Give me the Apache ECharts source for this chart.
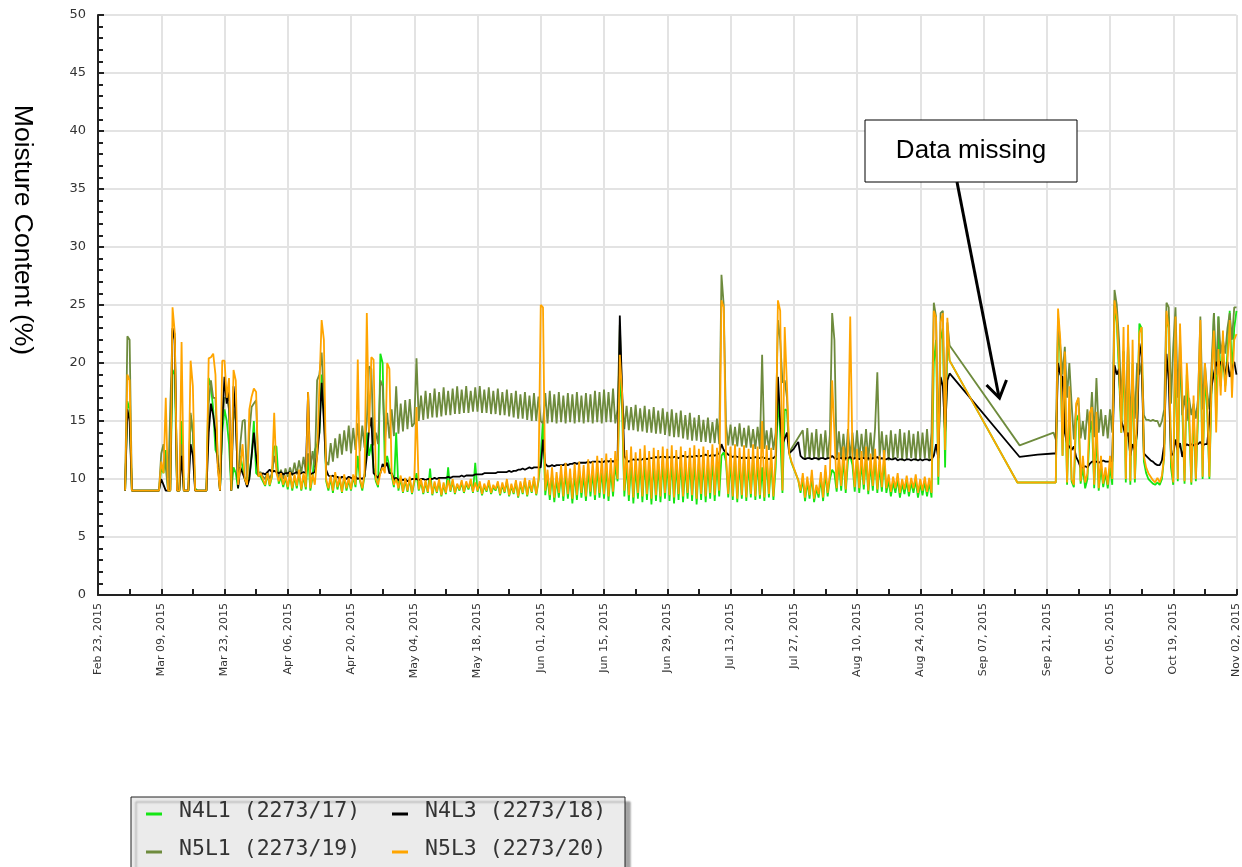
<!DOCTYPE html>
<html lang="en">
<head>
<meta charset="UTF-8">
<title>Moisture Content</title>
<script src="https://cdn.jsdelivr.net/npm/echarts@6/dist/echarts.min.js"></script>
<style>
    html, body { margin: 0; padding: 0; background: #fff; }
    #chart { width: 1242px; height: 867px; }
</style>
</head>
<body>
<div id="chart"></div>
<script>
    var _ = null;
    // one value every 12 hours, starting Feb 23 2015 00:00 (x = days since Feb 23)
    var stepDays = 0.5;

    var tickLabels = ['Feb 23, 2015', 'Mar 09, 2015', 'Mar 23, 2015', 'Apr 06, 2015', 'Apr 20, 2015',
        'May 04, 2015', 'May 18, 2015', 'Jun 01, 2015', 'Jun 15, 2015', 'Jun 29, 2015', 'Jul 13, 2015',
        'Jul 27, 2015', 'Aug 10, 2015', 'Aug 24, 2015', 'Sep 07, 2015', 'Sep 21, 2015', 'Oct 05, 2015',
        'Oct 19, 2015', 'Nov 02, 2015'];

    var names = ['N4L1 (2273/17)', 'N4L3 (2273/18)', 'N5L1 (2273/19)', 'N5L3 (2273/20)'];

    var n4l1 = [
        _,_,_,_,_,_,_,_,_,_,_,_, 9,16.7,16,9, 9,9,9,9, 9,9,9,9, 9,9,9,9,
        11,10.5,12.5,9, 9,19.4,19,9, 9,15,9,9, 9,15.5,14,9.2, 9,9,9,9, 9,18.7,18,16, 12.5,12,9,14,
        16,15,13,9, 11,10.5,9.2,12, 11,10,9.5,10.2, 12,15,10.5,10.3, 10.2,9.8,9.4,10.4, 9.4,10.2,12.8,12.8, 9.6,10.2,9.3,10.1,
        9.1,10.4,9,10.2, 9.2,10.5,9,10.3, 9.1,12,9,10.2, 12.5,13,14,19, 17,9.8,9,10.1, 8.8,10.4,9.1,10, 8.8,10.2,9,9.9,
        9,10.2,9.3,12, 9.8,9,10.3,14, 12,13,11,9.8, 9.3,20.8,20,11, 12,11,10.3,9.3, 14,9,10.1,8.8, 9.9,8.9,10,8.7,
        9.7,10.5,9,9.8, 8.7,9.7,8.8,10.9, 8.6,9.6,8.8,9.8, 8.5,9.5,8.7,11, 8.9,9.8,8.7,9.5, 9,9.7,8.8,9.6, 9.1,9.8,8.8,11.4,
        8.9,9.6,8.6,9.4, 8.9,9.7,8.7,9.3, 9,9.6,8.6,9.5, 8.8,9.8,8.5,9.4, 8.7,9.7,8.4,9.6, 8.7,9.9,8.5,9.7, 8.8,10,8.6,9.8,
        12,15,8.6,10.2, 8.2,10.4,8,10, 8.4,10.5,8.1,10.6, 8.3,10.2,7.9,10.5, 8.2,10.7,8.4,10.4, 8.1,10.8,8.5,10.6, 8.2,11,8.4,10.8,
        8.3,11,8.1,10.8, 8.5,11.2,9.8,19, 16,8.5,11.3,8.1, 11.5,7.9,11.1,8.3, 11.4,8,11.6,8.2, 11.2,7.8,11.5,8.1, 11.3,8,11.6,8.3,
        11.4,8.1,11.7,7.9, 11.3,8.2,11.6,8, 11.2,8.3,11.5,8.1, 11.7,7.8,11.4,8.2, 11.6,8,11.3,8.3, 11.8,8.1,11.5,8.5, 12,12.3,11.5,8.4,
        11.6,8.2,11.8,8, 11.5,8.3,11.7,8.1, 11.4,8.4,11.8,8.2, 11.6,8.3,11,8.1, 11.7,8.4,11.5,8.2, 11,17,14,8.8, 16,15.9,12.2,11.4,
        _,_,9.9,8.8, 10,8.1,9.8,8.3, 10.3,8,9.2,8.4, 10.1,8.1,10.6,8.5, 10,10.8,10.5,8.9, 11.5,9,11.8,8.8, 11.6,12,11.2,8.9,
        11.7,8.8,11.5,9.1, 11.9,8.7,11.3,9, 11.7,8.8,11.1,8.9, 11.6,8.8,9.9,8.5, 9.7,8.8,10,8.4, 9.6,8.7,9.8,8.5, 9.7,8.8,9.9,8.4,
        9.6,8.6,9.8,8.5, 9.7,8.4,20,22, 9.5,22,23,11, 22,20.2, _,_,_,_,_,_,_,_,_,_,_,_,_,_,
        _,_,_,_,_,_,_,_,_,_,_,_,_,_,_, 9.7, _,_,_,_, 9.7, _,_,_,_,_, 9.7, _,
        _,_,_,9.7, 9.7,23,21,12, 19,9.5,16,9.8, 9.3,15,15.5,9.6, 11,9.2,10,14, 15,9.2,14,9, 11,9.3,10.5,9.2,
        11,9.5,25,23.5, 19,14,21,9.7, 22,9.5,20,9.7, 15,23.4,23,11.5, 10.5,10,9.8,9.6, 9.5,9.7,9.5,10, 12,23,24,11,
        9.5,22,9.8,21, 16,9.6,19,15, 9.5,16,9.8,15.5, 22,10,19,16, 10,18,24.3,15, 24,18,21,18, 21,24.5,19,23, 24.5
    ];

    var n4l3 = [
        _,_,_,_,_,_,_,_,_,_,_,_, 9,16,15,9, 9,9,9,9, 9,9,9,9, 9,9,9,9,
        10,9.5,9,9, 9,23,22,9, 9,12,9,9, 9,13,12,9, 9,9,9,9, 9,14,16.5,15.5, 14,11.4,9,15,
        18.8,16.5,17.5,9, 18,15.3,9.2,11, 10.5,10,9.3,10, 12,14,12,10.3, 10.4,10.5,10.4,10.6, 10.8,10.6,10.7,10.6, 10.5,10.6,10.4,10.5,
        10.5,10.6,10.4,10.5, 10.6,10.4,10.5,10.6, 10.5,17.5,10.4,10.5, 10.6,12,14,18.3, 15,10.8,10.3,10.2, 10.3,10.1,10.2,10, 10.2,10.1,10,10.2,
        10.1,10,10.2,10, 10.1,10,10.2,12, 14.3,15.3,10.5,10.3, 10.1,10.5,11.3,11, 11.4,10.5,10.5,10, 10.1,9.9,10,9.9, 10,9.8,9.9,10,
        10,10,9.9,10, 10,9.9,10,10, 10,10.1,10,10.1, 10.1,10.1,10.1,10.2, 10.1,10.2,10.2,10.2, 10.2,10.3,10.2,10.3, 10.3,10.3,10.3,10.4,
        10.4,10.4,10.4,10.5, 10.5,10.5,10.5,10.5, 10.5,10.6,10.6,10.6, 10.6,10.6,10.7,10.6, 10.7,10.7,10.8,10.8, 10.9,10.8,10.9,11, 10.9,11,11,11,
        11,13.4,11.3,11.1, 11.1,11.2,11.1,11.2, 11.2,11.2,11.2,11.3, 11.2,11.3,11.3,11.4, 11.3,11.4,11.4,11.4, 11.4,11.5,11.4,11.5, 11.5,11.5,11.5,11.4,
        11.5,11.6,11.5,11.6, 11.5,11.6,11.6,24.1, 17.7,12,11.6,11.5, 11.6,11.7,11.6,11.7, 11.6,11.7,11.8,11.7, 11.8,11.8,11.8,11.9, 11.8,11.9,11.9,11.9,
        11.8,11.9,11.8,11.9, 11.9,11.8,11.9,12, 11.9,11.9,12,11.9, 12,12,11.9,12, 12,12.1,12,12, 12.1,12,12.1,12.2, 13,12.5,12.3,12.1,
        12,11.9,12,11.9, 11.9,11.8,11.9,11.8, 11.9,11.8,11.8,11.9, 11.8,11.8,11.9,11.8, 11.8,11.7,11.8,11.8, 12,18.8,15,13, 13.5,14,12.2,12.4,
        12.6,_,13.2,12, 11.8,11.7,11.8,11.8, 11.7,11.8,11.8,11.7, 11.8,11.8,11.7,11.8, 11.8,12,11.8,11.7, 11.8,11.8,11.7,11.8, 11.8,11.9,11.7,11.8,
        11.8,11.7,11.8,11.8, 11.7,11.8,11.7,11.8, 11.8,11.9,11.7,11.8, 11.7,11.7,11.8,11.7, 11.7,11.8,11.6,11.7, 11.7,11.6,11.7,11.7, 11.6,11.7,11.7,11.6,
        11.7,11.6,11.7,11.7, 11.6,11.7,12,13, 11.8,18.8,18,14, 18.5,19.1, _,_,_,_,_,_,_,_,_,_,_,_,_,_,
        _,_,_,_,_,_,_,_,_,_,_,_,_,_,_,_, 11.9, _,_,_,_,_,_,_, 12.1, _,_,_,
        _,_,_,12.2, 12.2,20,19,18.8, 14,13,12.8,12.5, 12.8,11.9,11.5,11, 11,11.1,11,11.3, 11.5,11.5,11.5,11.4, 11.5,11.6,11.5,11.5,
        11.5,11.5,19.8,19, 19.5,15,14.4,13.6, 14,12,13,12.5, 14,21.7,20.5,12.2, 12,11.8,11.6,11.5, 11.3,11.2,11.2,11.6, 13,20.8,18.5,12,
        12.2,13.4,12.5,13.1, 11.9,12.8,13,12.9, 13,12.9,13,13, 13.2,12.9,13,13, 15,18,19.1,20.1, 19.5,20.1,20,19, 20.1,18.8,19.5,20.1, 19
    ];

    var n5l1 = [
        _,_,_,_,_,_,_,_,_,_,_,_, 9,22.3,22,9, 9,9,9,9, 9,9,9,9, 9,9,9,9,
        12.2,13,11,9, 16.2,22.8,22.5,9, 9,13,9,9, 9,15.7,14,9, 9,9,9,9, 9,16.5,18.5,17, 17,12,9,15,
        17,17,16,9, 16,15,9.5,13, 15,15.1,9.5,14, 16.2,16.5,16.8,10.5, 10.6,10.2,10,10.6, 10,10.5,12,11, 10.2,10.8,10,10.9,
        10.2,11,10.3,11.4, 10.4,11.6,10.5,11.9, 10.6,12.2,10.8,12.4, 11,18.5,19,20.9, 17,11.5,11.2,13.1, 11.5,13.5,11.8,13.9, 12.1,14.2,12.4,14.6,
        12.2,14.4,12.5,14.8, 12.4,14.6,12.7,15, 19.7,19.5,12.9,14, 13,18.5,18,13.3, 15.7,13.5,16,13.7, 18,13.9,16.5,14.1, 16.8,14.3,16.9,14.5,
        14.8,20.4,15,17.2, 15.1,17.6,15.2,17.4, 15.3,17.8,15.3,17.5, 15.4,17.9,15.5,17.6, 15.5,17.8,15.6,18, 15.6,17.7,15.7,18, 15.7,17.6,15.8,17.9,
        15.8,18,15.7,17.7, 15.7,17.9,15.6,17.6, 15.6,17.8,15.5,17.5, 15.5,17.7,15.4,17.4, 15.3,17.6,15.2,17.3, 15.2,17.5,15.1,17.2, 15,17.4,15,17.1,
        15,14.8,17.4,14.8, 17.6,14.9,17.3,14.8, 17.5,14.9,17.2,14.8, 17.4,14.9,17.3,14.8, 17.5,14.9,17.2,14.8, 17.4,14.9,17.3,14.8, 17.6,14.9,17.5,14.8,
        17.7,14.9,17.5,14.9, 17.8,14.8,16,23.3, 17,14.3,16.3,14.2, 16.2,14.2,16.4,14.1, 16.1,14.1,16.3,14, 16,14,16.2,13.9, 15.9,13.9,16.1,13.8,
        15.8,13.7,16,13.6, 15.7,13.6,15.9,13.5, 15.5,13.4,15.7,13.3, 15.3,13.3,15.5,13.2, 15.1,13.2,15.3,13.1, 14.9,13.1,15.2,13, 27.6,25,14.7,12.9,
        14.7,12.9,14.5,12.8, 14.8,12.8,14.4,12.7, 14.6,12.7,14.3,12.6, 14.5,12.6,20.7,12.6, 14.2,12.5,14.4,12.5, 14,23.7,22,18.3, 18.5,17,12.3,_,
        _,_,_,_, 14.2,11.8,14.4,11.7, 14,11.8,14.3,11.6, 13.9,11.8,14.2,11.7, 13.8,24.3,22,11.7, 14.1,11.8,13.9,11.6, 14.3,11.8,14,11.7,
        14.2,11.7,13.9,11.8, 14.3,11.6,14,11.7, 14.4,19.2,11.8,14.1, 11.7,13.8,11.6,14.2, 11.7,13.9,11.8,14.3, 11.6,14,11.7,14.2, 11.8,13.9,11.6,14.1,
        11.7,14,11.8,14.3, 11.6,14,25.2,24, 12,24.3,24.5,14, 23.5,21.5, _,_,_,_,_,_,_,_,_,_,_,_,_,_,
        _,_,_,_,_,_,_,_,_,_,_,_,_,_,_,_, 12.9, _,_,_,_,_,_,_,_,_,_,_,
        _,_,_,14, 13.4,24,21.5,19, 21.4,17,20,16.5, 13.4,16.2,17,13.5, 15,13.4,16,14, 17.5,13.6,18.7,14, 16,13.7,15.5,13.5,
        16,14,26.3,25, 22,16.5,21,14.8, 22,15,19,15.2, 20,19,20,15.5, 15.1,15.1,15,15.1, 15,15,14.5,15, 16,25.2,24.8,16.5,
        21.4,24.8,17,22, 15.5,17.2,15,17, 15.5,16.5,15.2,17, 24,16,20,17.5, 16,20,24.3,19, 24,20.8,22,20.8, 23,24.3,22,24.8, 24.8
    ];

    var n5l3 = [
        _,_,_,_,_,_,_,_,_,_,_,_, 9,19,18.5,9, 9,9,9,9, 9,9,9,9, 9,9,9,9,
        11.5,10.5,17,9, 9,24.8,22.6,9, 9,21.8,9,9, 9,20.2,18,9, 9,9,9,9, 9,20.4,20.5,20.8, 19,11,9,20.2,
        20.2,17,18.7,9, 19.4,18.5,9.5,11, 13,10,9.5,16, 17.1,17.8,17.5,10.2, 10.5,10,9.5,10.5, 9.5,10.3,15.7,10.5, 9.8,10.5,9.5,10.3,
        9.3,10.6,9.2,10.4, 9.4,10.8,9.1,10.5, 9.3,17.5,9.2,10.4, 9.5,12,18,23.7, 22,10,9.2,10.3, 9,10.6,9.3,10.2, 8.9,10.4,9.2,10.1,
        9.1,10.4,9.5,20.3, 10,9.2,10.5,24.3, 14,20.5,20.3,10, 9.5,10.5,11,10.5, 20,19.5,10.5,9.5, 10,9.2,10.3,8.9, 10.1,9,10.2,8.8,
        9.9,16.2,9.1,10, 8.8,9.9,8.9,10.1, 8.7,9.8,8.9,10, 8.6,9.7,8.8,9.9, 9,10,8.8,9.6, 9.1,9.9,8.9,9.8, 9.2,10,8.9,9.7,
        9,9.8,8.7,9.6, 9,9.9,8.8,9.5, 9.1,9.8,8.7,9.7, 8.9,10,8.6,9.6, 8.8,9.9,8.5,9.8, 8.8,10.1,8.6,9.9, 8.9,10.2,8.7,10,
        25,24.8,9,10.8, 8.6,11,8.4,10.6, 8.8,11.2,8.5,11.4, 8.7,10.9,8.3,11.3, 8.6,11.5,8.8,11.2, 8.5,11.7,8.9,11.5, 8.6,12,8.8,11.8,
        8.7,12.2,8.5,11.8, 8.9,12.4,10,20.7, 17.5,9,12.5,8.6, 12.8,8.4,12.3,8.8, 12.6,8.5,12.9,8.7, 12.4,8.3,12.7,8.6, 12.5,8.5,12.8,8.8,
        12.6,8.6,12.9,8.4, 12.5,8.7,12.8,8.5, 12.4,8.8,12.7,8.6, 12.9,8.3,12.6,8.7, 12.8,8.5,12.5,8.8, 13,8.6,12.7,9, 25.4,24.8,12,8.7,
        12.8,8.5,13,8.3, 12.7,8.6,12.9,8.4, 12.6,8.7,13,8.5, 12.8,8.6,15,8.4, 12.9,8.7,12.7,8.5, 12,25.4,24.5,9, 23.1,18,12.2,11.5,
        _,_,9.9,9, 10.5,8.4,10.2,8.6, 10.8,8.3,9.5,8.7, 10.6,8.4,11.2,8.8, 10.4,18.5,14,9.2, 12.3,9.4,12.8,9.1, 12.5,24,12,9.3,
        12.6,9.2,12.4,9.5, 12.8,9,12.2,9.4, 12.6,9.1,12,9.3, 12.5,9.2,10.4,8.9, 10.2,9.2,10.5,8.8, 10,9.1,10.3,8.9, 10.1,9.2,10.4,8.8,
        10,9,10.2,8.9, 10.1,8.8,24.5,23.9, 10.2,23.5,24.3,12.5, 23.9,20.2, _,_,_,_,_,_,_,_,_,_,_,_,_,_,
        _,_,_,_,_,_,_,_,_,_,_,_,_,_,_, 9.7, _,_,_,_, 9.7, _,_,_,_,_, 9.7, _,
        _,_,_,9.7, 9.7,24.7,22,12, 21,9.7,18,10, 9.5,16.5,17,9.8, 12,9.7,10.5,15.7, 16.2,9.5,15.8,9.2, 12,9.6,11,9.5,
        12,10,25.4,24, 20,14,23.1,10, 23.3,9.8,22,10, 16,22.6,23.1,12, 11,10.5,10.2,9.9, 9.7,10.1,9.7,10.3, 12,24.5,23,12,
        9.7,24,10,23.4, 17.2,9.8,20,16.4, 9.7,17.2,10,16.8, 23.7,10.2,20,17, 10.2,19,22.8,14, 21.2,17.2,22.8,17.5, 20,23.7,17,22, 22.5
    ];

    var colors = { n4l1: '#14e614', n4l3: '#000000', n5l1: '#6e8b3d', n5l3: '#ffa500' };

    function toPoints(values) {
        return values.map(function (v, i) { return [i * stepDays, v]; });
    }

    function lineSeries(name, values, color) {
        return {
            name: name,
            type: 'line',
            data: toPoints(values),
            showSymbol: false,
            connectNulls: true,
            sampling: 'none',
            color: color,
            lineStyle: { color: color, width: 1.8 },
            emphasis: { disabled: true }
        };
    }

    var chart = echarts.init(document.getElementById('chart'));
    var option = {
        animation: false,
        backgroundColor: '#ffffff',
        grid: { left: 98, top: 15, width: 1142, height: 580 },
        legend: {
            data: names,
            left: 131,
            top: 797,
            width: 480,
            padding: [3, 3, 8, 15],
            itemGap: 16,
            itemWidth: 28,
            itemHeight: 9,
            icon: 'path://M0,6H16V9H0ZM27.9,0H28V0.1H27.9Z',
            backgroundColor: '#ebebeb',
            borderColor: '#222',
            borderWidth: 1,
            borderRadius: 0,
            shadowColor: 'rgba(0,0,0,0.35)',
            shadowBlur: 2,
            shadowOffsetX: 5,
            shadowOffsetY: 5,
            selectedMode: false,
            textStyle: {
                fontFamily: 'DejaVu Sans Mono',
                fontSize: 21.5,
                color: '#333',
                width: 197,
                lineHeight: 21
            }
        },
        xAxis: {
            type: 'value',
            min: 0,
            max: 252,
            interval: 14,
            axisLine: { lineStyle: { color: '#222', width: 2 } },
            axisTick: { inside: true, length: 6, lineStyle: { color: '#222', width: 2 } },
            minorTick: { show: true, splitNumber: 2, length: 6, lineStyle: { color: '#222', width: 2 } },
            splitLine: { show: true, lineStyle: { color: '#e3e3e3', width: 2 } },
            axisLabel: {
                rotate: 90,
                margin: 8,
                fontFamily: 'DejaVu Sans',
                fontSize: 11,
                color: '#333',
                showMinLabel: true,
                showMaxLabel: true,
                formatter: function (v) { return tickLabels[Math.round(v / 14)]; }
            }
        },
        yAxis: {
            type: 'value',
            min: 0,
            max: 50,
            interval: 5,
            axisLine: { show: true, lineStyle: { color: '#222', width: 2 } },
            axisTick: { show: true, inside: true, length: 6, lineStyle: { color: '#222', width: 2 } },
            minorTick: { show: true, splitNumber: 5, length: 5, lineStyle: { color: '#222', width: 2 } },
            splitLine: { show: true, lineStyle: { color: '#e3e3e3', width: 2 } },
            axisLabel: {
                margin: 12,
                fontFamily: 'DejaVu Sans',
                fontSize: 13,
                color: '#333'
            }
        },
        series: [
            lineSeries(names[0], n4l1, colors.n4l1),
            lineSeries(names[2], n5l1, colors.n5l1),
            lineSeries(names[1], n4l3, colors.n4l3),
            lineSeries(names[3], n5l3, colors.n5l3)
        ],
        graphic: [
            {
                type: 'text',
                x: 22,
                y: 230,
                rotation: -Math.PI / 2,
                style: {
                    text: 'Moisture Content (%)',
                    font: '26.5px "Liberation Sans", Arial, sans-serif',
                    fill: '#000',
                    align: 'center',
                    verticalAlign: 'middle'
                }
            },
            {
                type: 'rect',
                z: 100,
                shape: { x: 865, y: 120, width: 212, height: 62 },
                style: { fill: '#fff', stroke: '#000', lineWidth: 1 }
            },
            {
                type: 'text',
                z: 101,
                x: 971,
                y: 151,
                style: {
                    text: 'Data missing',
                    font: '26px "Liberation Sans", Arial, sans-serif',
                    fill: '#000',
                    align: 'center',
                    verticalAlign: 'middle'
                }
            },
            {
                type: 'line',
                z: 100,
                shape: { x1: 957, y1: 182, x2: 999, y2: 397 },
                style: { stroke: '#000', lineWidth: 3 }
            },
            {
                type: 'polyline',
                z: 100,
                shape: { points: [[986.5, 385], [999.5, 398], [1006.5, 380]] },
                style: { stroke: '#000', lineWidth: 3, fill: null }
            }
        ]
    };
    chart.setOption(option);
</script>
</body>
</html>
